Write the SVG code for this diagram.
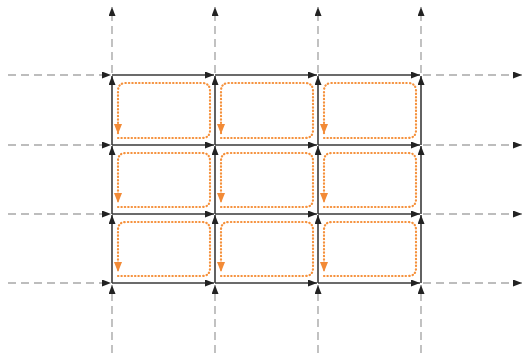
<svg xmlns="http://www.w3.org/2000/svg" width="525" height="353" viewBox="0 0 525 353">
<style>
.dash{stroke:#a8a8a8;stroke-width:1.4;stroke-dasharray:8 5;fill:none;marker-end:url(#ab)}
.sol{stroke:#3a3a3a;stroke-width:1.6;fill:none;marker-end:url(#ab)}
.loop{stroke:#f5913c;stroke-width:2.2;stroke-dasharray:0.4 3;stroke-linecap:round;fill:none;marker-end:url(#ao)}
</style>
<defs>
<marker id="ab" markerUnits="userSpaceOnUse" markerWidth="10" markerHeight="8" refX="9" refY="3.5" orient="auto"><path d="M0,0 L9,3.5 L0,7 Z" fill="#222"/></marker>
<marker id="ao" markerUnits="userSpaceOnUse" markerWidth="11" markerHeight="9" refX="10" refY="4" orient="auto"><path d="M0,0 L10,4 L0,8 Z" fill="#f28a36"/></marker>
</defs>
<rect width="525" height="353" fill="#fff"/>
<g id="connectors">
<path class="dash" d="M8,75 H111"/><path class="dash" d="M423,75 H522"/>
<path class="dash" d="M8,145 H111"/><path class="dash" d="M423,145 H522"/>
<path class="dash" d="M8,214 H111"/><path class="dash" d="M423,214 H522"/>
<path class="dash" d="M8,283 H111"/><path class="dash" d="M423,283 H522"/>
<path class="dash" d="M112,73 V7"/><path class="dash" d="M112,353 V285"/>
<path class="dash" d="M215,73 V7"/><path class="dash" d="M215,353 V285"/>
<path class="dash" d="M318,73 V7"/><path class="dash" d="M318,353 V285"/>
<path class="dash" d="M421,73 V7"/><path class="dash" d="M421,353 V285"/>
<path class="sol" d="M112,75 H214"/><path class="sol" d="M215,75 H317"/><path class="sol" d="M318,75 H420"/>
<path class="sol" d="M112,145 H214"/><path class="sol" d="M215,145 H317"/><path class="sol" d="M318,145 H420"/>
<path class="sol" d="M112,214 H214"/><path class="sol" d="M215,214 H317"/><path class="sol" d="M318,214 H420"/>
<path class="sol" d="M112,283 H214"/><path class="sol" d="M215,283 H317"/><path class="sol" d="M318,283 H420"/>
<path class="sol" d="M112,145 V76"/><path class="sol" d="M112,214 V146"/><path class="sol" d="M112,283 V215"/>
<path class="sol" d="M215,145 V76"/><path class="sol" d="M215,214 V146"/><path class="sol" d="M215,283 V215"/>
<path class="sol" d="M318,145 V76"/><path class="sol" d="M318,214 V146"/><path class="sol" d="M318,283 V215"/>
<path class="sol" d="M421,145 V76"/><path class="sol" d="M421,214 V146"/><path class="sol" d="M421,283 V215"/>
</g>
<g id="cell-1-1"><path class="loop" d="M118,138 H202 Q210,138 210,130 V91 Q210,83 202,83 H126 Q118,83 118,91 V134"/></g>
<g id="cell-1-2"><path class="loop" d="M221,138 H305 Q313,138 313,130 V91 Q313,83 305,83 H229 Q221,83 221,91 V134"/></g>
<g id="cell-1-3"><path class="loop" d="M324,138 H408 Q416,138 416,130 V91 Q416,83 408,83 H332 Q324,83 324,91 V134"/></g>
<g id="cell-2-1"><path class="loop" d="M118,207 H202 Q210,207 210,199 V161 Q210,153 202,153 H126 Q118,153 118,161 V203"/></g>
<g id="cell-2-2"><path class="loop" d="M221,207 H305 Q313,207 313,199 V161 Q313,153 305,153 H229 Q221,153 221,161 V203"/></g>
<g id="cell-2-3"><path class="loop" d="M324,207 H408 Q416,207 416,199 V161 Q416,153 408,153 H332 Q324,153 324,161 V203"/></g>
<g id="cell-3-1"><path class="loop" d="M118,276 H202 Q210,276 210,268 V230 Q210,222 202,222 H126 Q118,222 118,230 V272"/></g>
<g id="cell-3-2"><path class="loop" d="M221,276 H305 Q313,276 313,268 V230 Q313,222 305,222 H229 Q221,222 221,230 V272"/></g>
<g id="cell-3-3"><path class="loop" d="M324,276 H408 Q416,276 416,268 V230 Q416,222 408,222 H332 Q324,222 324,230 V272"/></g>
</svg>
